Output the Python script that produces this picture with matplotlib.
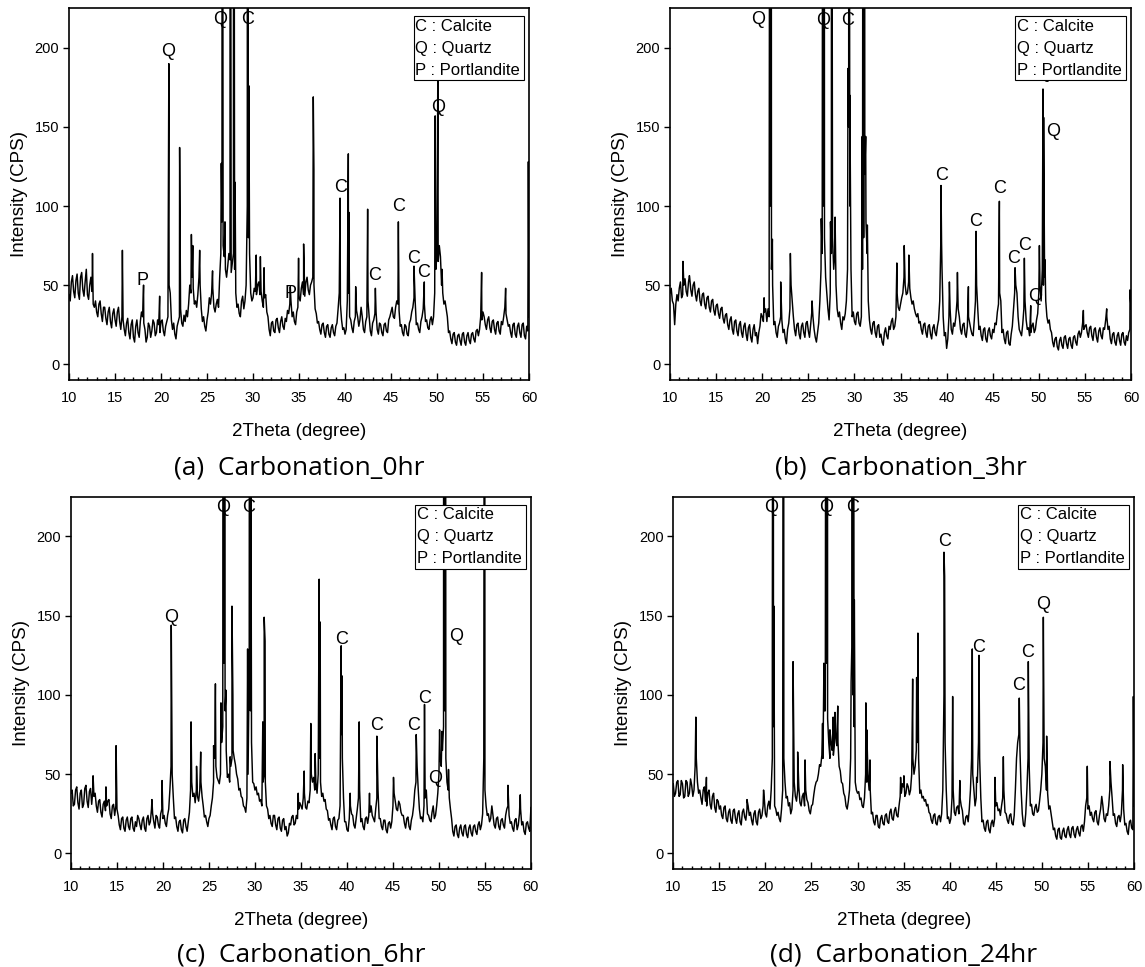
import numpy as np
import matplotlib
matplotlib.use('Agg')
import matplotlib.pyplot as plt
from matplotlib.patches import Rectangle
from matplotlib.ticker import MultipleLocator

plt.rcParams['font.family'] = ['Liberation Sans', 'DejaVu Sans']

# scan grid: 10-60 deg, 0.25 deg steps, plus the half-step points in between
two_theta = np.arange(10, 60.001, 0.25)
half_theta = two_theta[:-1] + 0.125

# counts on the grid (CPS), one row per 5 degrees
bg_0hr = [44, 52, 46, 53, 45, 55, 47, 52, 44, 50, 46, 36, 33, 38, 32, 36, 29, 33, 27, 32,
          28, 33, 27, 30, 22, 26, 20, 25, 17, 24, 20, 27, 30, 22, 17, 24, 21, 26, 20, 25,
          27, 21, 24, 30, 45, 22, 19, 24, 30, 26, 31, 34, 38, 45, 48, 40, 44, 50, 27, 24,
          28, 42, 45, 36, 38, 36, 70, 75, 60, 62, 66, 64, 60, 36, 32, 40, 35, 50, 80, 45,
          42, 46, 50, 44, 40, 42, 33, 22, 26, 21, 28, 23, 27, 24, 29, 34, 38, 30, 27, 33,
          42, 48, 44, 52, 47, 50, 55, 35, 26, 22, 25, 20, 24, 19, 23, 20, 24, 35, 38, 22,
          19, 40, 30, 23, 27, 34, 24, 36, 22, 27, 40, 21, 26, 32, 22, 26, 20, 25, 21, 28,
          33, 30, 36, 38, 24, 20, 25, 19, 26, 33, 42, 25, 22, 27, 35, 27, 23, 28, 25, 45,
          70, 75, 50, 38, 35, 20, 16, 19, 14, 18, 15, 19, 14, 18, 15, 19, 16, 21, 18, 30,
          33, 25, 28, 23, 27, 22, 26, 21, 27, 30, 32, 24, 20, 25, 19, 24, 20, 25, 18, 24,
          30]
mid_0hr = [40, 56, 42, 57, 41, 58, 43, 60, 41, 55, 38, 40, 30, 40, 27, 36, 25, 36, 23, 35,
           24, 36, 22, 28, 18, 29, 16, 28, 14, 28, 17, 33, 26, 14, 26, 17, 28, 18, 28, 20,
           28, 18, 27, 50, 28, 26, 16, 27, 35, 24, 27, 30, 50, 55, 38, 36, 55, 35, 30, 21,
           33, 38, 48, 33, 41, 55, 90, 68, 55, 70, 58, 70, 45, 38, 30, 43, 40, 100, 70, 40,
           48, 44, 52, 46, 36, 44, 30, 18, 27, 20, 29, 20, 30, 22, 27, 32, 40, 33, 25, 36,
           40, 52, 43, 55, 44, 52, 50, 32, 27, 19, 26, 17, 25, 17, 25, 18, 26, 45, 28, 23,
           22, 45, 28, 20, 30, 30, 28, 30, 20, 30, 30, 18, 28, 33, 19, 25, 18, 26, 20, 30,
           36, 29, 40, 34, 25, 18, 24, 18, 28, 36, 40, 26, 20, 30, 38, 28, 22, 30, 30, 60,
           65, 68, 45, 40, 30, 21, 13, 20, 12, 19, 12, 20, 12, 20, 13, 20, 14, 22, 22, 28,
           30, 22, 30, 20, 28, 19, 27, 19, 25, 36, 28, 25, 17, 26, 17, 26, 17, 26, 16, 21]
bg_3hr = [45, 40, 25, 44, 48, 42, 50, 46, 52, 47, 50, 44, 46, 40, 44, 38, 42, 36, 40, 34,
          37, 32, 35, 29, 31, 25, 28, 22, 27, 21, 25, 20, 24, 19, 23, 17, 22, 18, 13, 24,
          30, 33, 27, 30, 60, 25, 20, 24, 30, 20, 16, 22, 35, 40, 22, 25, 19, 24, 20, 26,
          21, 25, 30, 17, 20, 40, 70, 80, 45, 28, 70, 60, 50, 30, 26, 30, 32, 60, 100, 30,
          27, 32, 26, 30, 80, 90, 40, 22, 26, 20, 24, 17, 14, 20, 18, 24, 27, 22, 30, 36,
          38, 45, 50, 45, 48, 38, 35, 30, 26, 22, 25, 20, 24, 19, 23, 20, 24, 40, 60, 18,
          10, 30, 22, 26, 30, 35, 22, 25, 19, 24, 26, 19, 28, 50, 22, 18, 22, 16, 21, 18,
          22, 26, 33, 45, 20, 16, 20, 13, 19, 35, 50, 30, 20, 25, 40, 22, 18, 24, 20, 28,
          45, 40, 50, 40, 26, 22, 14, 16, 11, 15, 12, 17, 13, 16, 12, 17, 14, 19, 17, 26,
          24, 20, 23, 18, 22, 17, 21, 18, 23, 28, 22, 16, 19, 14, 18, 15, 19, 14, 18, 20,
          35]
mid_3hr = [48, 38, 38, 40, 52, 44, 54, 43, 55, 43, 52, 40, 48, 37, 45, 35, 43, 33, 41, 31,
           38, 29, 36, 26, 32, 22, 30, 19, 28, 18, 27, 17, 26, 15, 25, 14, 25, 20, 20, 32,
           27, 35, 35, 100, 50, 27, 17, 26, 28, 22, 13, 26, 50, 30, 18, 26, 16, 26, 17, 27,
           17, 33, 22, 14, 26, 60, 100, 55, 35, 45, 80, 70, 35, 33, 22, 28, 40, 150, 60, 33,
           25, 33, 24, 60, 120, 70, 28, 19, 27, 17, 25, 19, 12, 23, 16, 22, 29, 24, 45, 34,
           42, 55, 44, 52, 42, 40, 32, 32, 27, 19, 26, 17, 25, 16, 25, 18, 28, 80, 30, 20,
           16, 35, 19, 24, 40, 30, 19, 26, 17, 30, 22, 18, 40, 35, 24, 15, 23, 14, 23, 16,
           20, 25, 38, 40, 22, 13, 21, 12, 24, 45, 45, 22, 18, 35, 28, 23, 20, 26, 22, 32,
           50, 60, 55, 30, 28, 20, 11, 17, 9, 17, 10, 18, 10, 17, 10, 18, 12, 21, 20, 22,
           25, 17, 24, 15, 23, 14, 23, 16, 22, 30, 24, 13, 20, 12, 20, 12, 20, 12, 15, 22]
bg_6hr = [38, 30, 40, 32, 38, 29, 41, 33, 39, 31, 36, 30, 33, 26, 31, 27, 33, 25, 30, 24,
          28, 18, 22, 16, 21, 17, 22, 16, 20, 24, 18, 21, 16, 22, 18, 28, 20, 24, 18, 25,
          22, 19, 24, 40, 50, 22, 17, 20, 15, 21, 17, 20, 40, 36, 32, 36, 40, 36, 23, 20,
          22, 30, 45, 55, 46, 50, 80, 90, 48, 45, 60, 60, 50, 40, 36, 30, 26, 50, 90, 45,
          40, 37, 33, 30, 50, 30, 22, 19, 24, 18, 22, 16, 21, 15, 11, 19, 23, 18, 24, 28,
          30, 35, 29, 33, 40, 45, 40, 38, 60, 36, 33, 28, 21, 18, 22, 17, 21, 30, 60, 20,
          15, 22, 25, 18, 22, 35, 20, 17, 22, 19, 26, 24, 20, 35, 22, 17, 21, 15, 19, 16,
          30, 33, 27, 31, 24, 19, 22, 17, 21, 30, 45, 40, 22, 20, 35, 25, 21, 26, 22, 30,
          50, 55, 80, 60, 40, 28, 14, 17, 12, 16, 13, 17, 12, 16, 13, 17, 14, 18, 15, 25,
          40, 24, 20, 30, 18, 22, 17, 21, 18, 24, 30, 19, 16, 21, 15, 25, 18, 14, 19, 16,
          29]
mid_6hr = [40, 31, 42, 28, 40, 31, 43, 29, 41, 40, 38, 26, 34, 23, 33, 30, 34, 22, 31, 30,
           24, 15, 23, 14, 23, 15, 23, 14, 17, 22, 15, 23, 14, 24, 20, 25, 16, 23, 16, 28,
           24, 17, 28, 55, 35, 23, 14, 21, 13, 22, 14, 26, 45, 38, 40, 33, 45, 30, 24, 17,
           24, 35, 60, 48, 44, 70, 120, 65, 50, 55, 65, 56, 47, 41, 35, 29, 35, 120, 70, 44,
           42, 38, 34, 45, 45, 28, 24, 17, 24, 15, 23, 14, 22, 17, 13, 18, 24, 19, 22, 32,
           28, 38, 28, 32, 50, 48, 45, 50, 45, 38, 34, 27, 22, 15, 23, 15, 22, 75, 35, 20,
           14, 30, 24, 16, 28, 40, 22, 15, 23, 24, 30, 22, 28, 40, 22, 15, 21, 13, 20, 20,
           38, 28, 33, 26, 24, 16, 23, 15, 24, 40, 55, 28, 23, 30, 40, 24, 20, 30, 24, 38,
           60, 65, 90, 45, 35, 22, 11, 18, 10, 18, 11, 18, 10, 18, 11, 18, 12, 20, 18, 60,
           30, 25, 22, 24, 16, 23, 15, 22, 16, 28, 24, 20, 14, 22, 18, 28, 20, 12, 20, 14]
bg_24hr = [44, 38, 46, 37, 44, 36, 45, 38, 43, 40, 60, 38, 35, 40, 33, 38, 31, 36, 29, 34,
           28, 24, 29, 22, 26, 21, 27, 22, 25, 20, 26, 23, 28, 24, 21, 25, 20, 26, 22, 30,
           25, 30, 28, 60, 30, 24, 22, 28, 60, 35, 30, 25, 40, 36, 40, 32, 36, 30, 34, 27,
           30, 37, 45, 50, 55, 60, 90, 85, 60, 65, 70, 68, 55, 45, 38, 30, 33, 60, 100, 45,
           38, 34, 30, 35, 45, 40, 25, 20, 24, 17, 22, 19, 24, 20, 26, 22, 27, 24, 30, 38,
           42, 38, 42, 40, 60, 55, 70, 38, 35, 33, 30, 26, 21, 24, 19, 23, 20, 40, 70, 22,
           19, 35, 26, 29, 25, 30, 19, 23, 20, 40, 50, 30, 45, 60, 20, 16, 20, 15, 19, 17,
           30, 27, 24, 35, 26, 21, 24, 19, 24, 60, 75, 40, 18, 25, 60, 30, 25, 29, 26, 33,
           50, 60, 40, 28, 25, 15, 11, 15, 10, 14, 11, 15, 12, 16, 12, 15, 13, 17, 14, 30,
           28, 24, 22, 26, 20, 24, 36, 22, 25, 30, 45, 24, 19, 23, 20, 40, 18, 14, 20, 16,
           30]
mid_24hr = [36, 45, 36, 46, 35, 46, 36, 47, 36, 55, 45, 40, 31, 42, 30, 40, 28, 38, 26, 33,
            30, 22, 30, 20, 28, 19, 28, 19, 27, 18, 28, 21, 30, 26, 18, 27, 18, 28, 24, 35,
            23, 33, 40, 80, 28, 26, 20, 40, 45, 36, 32, 28, 45, 33, 42, 30, 38, 40, 32, 25,
            31, 42, 46, 56, 62, 90, 120, 70, 70, 62, 75, 70, 52, 44, 36, 28, 40, 130, 80, 40,
            39, 35, 29, 50, 50, 40, 26, 18, 24, 16, 24, 18, 25, 19, 28, 21, 29, 23, 36, 44,
            36, 44, 37, 50, 50, 65, 60, 40, 36, 34, 31, 25, 19, 25, 18, 24, 25, 100, 40, 23,
            22, 40, 24, 30, 35, 27, 18, 24, 28, 60, 40, 35, 70, 35, 21, 14, 21, 13, 21, 22,
            32, 28, 30, 40, 25, 19, 25, 18, 40, 70, 65, 25, 17, 40, 55, 31, 24, 31, 27, 40,
            70, 55, 38, 30, 20, 16, 9, 16, 9, 16, 10, 17, 10, 17, 10, 17, 11, 18, 20, 35,
            30, 26, 20, 27, 18, 28, 30, 20, 24, 40, 35, 25, 17, 24, 25, 28, 19, 12, 21, 15]

# sharp reflections: position (deg) and top count (CPS); 700 = off scale
pk_0hr_pos = [12.55, 15.8, 18.1, 19.85, 20.85, 22.02, 23.3, 23.45, 24.2, 25.6, 26.55, 26.65,
              26.95, 27.5, 27.88, 28.05, 29.4, 29.55, 30.35, 30.8, 31.2, 34.05, 34.95, 35.5,
              36.55, 36.62, 39.46, 40.36, 40.42, 41.16, 42.46, 43.3, 45.8, 47.5, 48.62, 49.8,
              50.1, 50.55, 54.85, 57.46, 59.93]
pk_0hr_hi = [70, 72, 50, 43, 190, 137, 82, 75, 72, 59, 127, 700,
             90, 700, 700, 115, 700, 176, 69, 68, 61, 49, 67, 76,
             169, 123, 105, 133, 96, 49, 98, 48, 90, 62, 52, 157,
             200, 60, 58, 48, 128]
pk_3hr_pos = [11.4, 12.1, 20.2, 20.75, 20.86, 20.96, 21.1, 22.0, 23.05, 25.4, 26.4, 26.6,
              26.72, 27.4, 27.5, 27.6, 27.9, 29.3, 29.38, 29.5, 30.85, 30.95, 31.08, 31.22,
              31.4, 34.6, 35.4, 35.9, 39.39, 39.45, 40.3, 41.17, 42.36, 43.19, 45.72, 47.42,
              48.43, 49.12, 50.06, 50.45, 50.52, 50.67, 54.83, 57.36, 59.89]
pk_3hr_hi = [65, 56, 42, 79, 700, 700, 79, 52, 70, 40, 92, 700,
             700, 90, 700, 170, 93, 187, 700, 170, 144, 700, 700, 144,
             88, 64, 75, 69, 113, 77, 52, 58, 49, 84, 103, 61,
             67, 37, 75, 174, 156, 66, 34, 35, 47]
pk_6hr_pos = [12.4, 13.8, 14.9, 18.8, 19.9, 20.9, 23.05, 23.65, 24.1, 25.5, 25.7, 26.3,
              26.55, 26.72, 26.85, 27.3, 27.5, 27.6, 29.2, 29.42, 29.52, 29.6, 30.85, 31.0,
              31.1, 34.7, 35.35, 36.07, 36.54, 36.98, 37.09, 39.37, 39.47, 40.35, 41.33, 42.45,
              43.25, 45.06, 47.53, 48.43, 50.07, 50.33, 50.52, 50.7, 51.04, 54.97, 57.5, 58.84]
pk_6hr_hi = [49, 42, 68, 34, 46, 144, 83, 55, 64, 68, 107, 95,
             700, 700, 103, 61, 156, 100, 129, 700, 700, 143, 83, 149,
             134, 38, 52, 82, 63, 173, 146, 131, 112, 38, 83, 38,
             74, 48, 75, 94, 78, 77, 700, 700, 53, 700, 43, 37]
pk_24hr_pos = [12.45, 13.6, 18.0, 19.8, 20.75, 20.85, 20.92, 21.97, 23.0, 23.05, 23.5, 24.3,
               26.2, 26.35, 26.6, 26.72, 27.0, 27.35, 27.55, 27.85, 29.3, 29.4, 29.52, 29.65,
               30.9, 31.0, 31.35, 34.67, 35.03, 35.98, 36.41, 36.55, 39.38, 39.45, 40.32, 41.1,
               42.45, 42.92, 43.18, 44.91, 45.82, 47.55, 48.53, 50.16, 50.52, 54.93, 57.39, 58.77,
               59.93]
pk_24hr_hi = [86, 48, 34, 40, 128, 700, 156, 700, 121, 91, 64, 59,
              82, 120, 700, 700, 78, 86, 89, 93, 108, 700, 700, 160,
              95, 78, 59, 48, 49, 110, 111, 139, 190, 175, 99, 46,
              129, 48, 125, 48, 61, 98, 121, 149, 74, 55, 58, 56,
              99]

# phase markers over the peaks
lab_0hr_txt = ['Q', 'Q', 'C', 'P', 'P', 'C', 'C', 'C', 'C', 'C', 'Q']
lab_0hr_x = [20.8, 26.45, 29.4, 18.0, 34.1, 39.5, 43.26, 45.8, 47.4, 48.5, 50.1]
lab_0hr_y = [198, 218, 218, 53, 45, 112, 56, 100, 67, 58, 162]
lab_3hr_txt = ['Q', 'Q', 'C', 'C', 'C', 'C', 'C', 'C', 'Q', 'Q', 'Q']
lab_3hr_x = [19.6, 26.55, 29.2, 39.46, 43.19, 45.7, 47.3, 48.43, 49.6, 51.6, 50.5]
lab_3hr_y = [218, 217, 217, 119, 90, 111, 67, 75, 43, 147, 184]
lab_6hr_txt = ['Q', 'Q', 'C', 'C', 'C', 'C', 'C', 'Q', 'Q']
lab_6hr_x = [20.84, 26.5, 29.3, 39.37, 43.2, 47.25, 48.43, 49.6, 51.84]
lab_6hr_y = [149, 218, 218, 135, 81, 81, 98, 47, 137]
lab_24hr_txt = ['Q', 'Q', 'C', 'C', 'C', 'C', 'C', 'Q']
lab_24hr_x = [20.67, 26.64, 29.43, 39.49, 43.14, 47.45, 48.5, 50.15]
lab_24hr_y = [218, 218, 218, 197, 130, 106, 127, 157]

captions = ['(a)  Carbonation_0hr', '(b)  Carbonation_3hr',
            '(c)  Carbonation_6hr', '(d)  Carbonation_24hr']
key_lines = ['C : Calcite', 'Q : Quartz', 'P : Portlandite']

panels = [
    (bg_0hr, mid_0hr, pk_0hr_pos, pk_0hr_hi, lab_0hr_txt, lab_0hr_x, lab_0hr_y),
    (bg_3hr, mid_3hr, pk_3hr_pos, pk_3hr_hi, lab_3hr_txt, lab_3hr_x, lab_3hr_y),
    (bg_6hr, mid_6hr, pk_6hr_pos, pk_6hr_hi, lab_6hr_txt, lab_6hr_x, lab_6hr_y),
    (bg_24hr, mid_24hr, pk_24hr_pos, pk_24hr_hi, lab_24hr_txt, lab_24hr_x, lab_24hr_y),
]
rects = [[0.0603, 0.6070, 0.4017, 0.3844],
         [0.5852, 0.6070, 0.4026, 0.3844],
         [0.0620, 0.1010, 0.4017, 0.3853],
         [0.5880, 0.1010, 0.4024, 0.3853]]
cap_y = [0.516, 0.516, 0.012, 0.012]

fig = plt.figure(figsize=(11.45, 9.67), dpi=100)

for i, (bg, mid, pk_pos, pk_hi, l_txt, l_x, l_y) in enumerate(panels):
    ax = fig.add_axes(rects[i])
    x = np.concatenate([two_theta, half_theta, pk_pos])
    y = np.concatenate([bg, mid, pk_hi])
    order = np.argsort(x, kind='stable')
    ax.plot(x[order], y[order], color='black', lw=1.05, zorder=2)

    ax.set_xlim(10, 60)
    ax.set_ylim(-10, 225)
    ax.xaxis.set_major_locator(MultipleLocator(5))
    ax.xaxis.set_minor_locator(MultipleLocator(1))
    ax.yaxis.set_major_locator(MultipleLocator(50))
    ax.tick_params(axis='x', which='major', direction='in', length=5, width=1, pad=8,
                   labelsize=10.5)
    ax.tick_params(axis='x', which='minor', direction='in', length=2.5, width=1)
    ax.tick_params(axis='y', which='major', direction='out', length=4.5, width=1, pad=2.5,
                   labelsize=10.5)
    for s in ax.spines.values():
        s.set_linewidth(1.2)
    ax.set_xlabel('2Theta (degree)', fontsize=13.5, labelpad=13)
    ax.set_ylabel('Intensity (CPS)', fontsize=13.5, labelpad=5)

    for t, tx, ty in zip(l_txt, l_x, l_y):
        ax.text(tx, ty, t, fontsize=13, ha='center', va='center', zorder=3, clip_on=False)

    # key box, top right
    ax.add_patch(Rectangle((0.749, 0.807), 0.241, 0.172, transform=ax.transAxes,
                           facecolor='white', edgecolor='black', lw=0.8, zorder=5))
    for k, line in enumerate(key_lines):
        ax.text(0.752, 0.952 - k * 0.059, line, transform=ax.transAxes, fontsize=12,
                ha='left', va='center', zorder=6)

    box = rects[i]
    fig.text(box[0] + box[2] / 2, cap_y[i], captions[i], ha='center', va='center',
             fontsize=19, family=['Open Sans', 'DejaVu Sans'])

fig.savefig('out.png', dpi=100)
